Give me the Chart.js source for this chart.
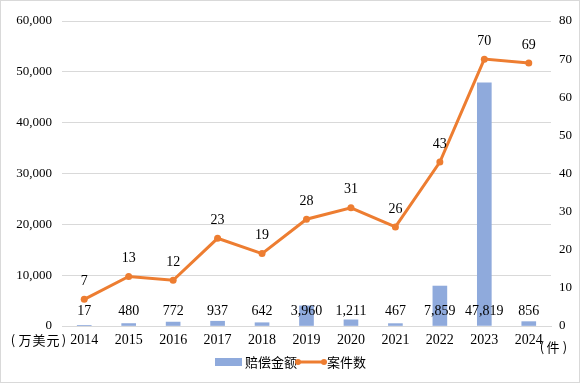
<!DOCTYPE html>
<html><head><meta charset="utf-8">
<script src="https://cdn.jsdelivr.net/npm/chart.js@4/dist/chart.umd.min.js"></script>
<style>html,body{margin:0;padding:0;background:#fff}canvas{display:block}</style>
</head><body>
<canvas id="c" width="580" height="383"></canvas>
<script>
const years = ['2014','2015','2016','2017','2018','2019','2020','2021','2022','2023','2024'];
const compensation = [17,480,772,937,642,3960,1211,467,7859,47819,856];
const caseCount = [7,13,12,23,19,28,31,26,43,70,69];
const leftTicks = [0,10000,20000,30000,40000,50000,60000];
const rightTicks = [0,10,20,30,40,50,60,70,80];

const SERIF = '"Liberation Serif","Times New Roman",serif';
const CJK = '"Noto Sans CJK SC","Noto Sans",sans-serif';
const BLUE = '#8faadc';
const ORANGE = '#ed7d31';

const fmt = v => v.toLocaleString('en-US');

function spaced(ctx, chars, centers, y) {
  chars.forEach((ch, i) => ctx.fillText(ch, centers[i], y));
}

const labelPlugin = {
  id: 'labels',
  afterDraw(chart) {
    const ctx = chart.ctx;
    ctx.save();
    // border
    ctx.strokeStyle = '#d9d9d9';
    ctx.lineWidth = 1;
    ctx.strokeRect(0.5, 0.5, 579, 382);
    // bar labels
    ctx.fillStyle = '#000';
    ctx.font = '14px ' + SERIF;
    ctx.textAlign = 'center';
    ctx.textBaseline = 'middle';
    const barMeta = chart.getDatasetMeta(1);
    const y0 = chart.scales.y.getPixelForValue(0);
    barMeta.data.forEach((el, i) => {
      ctx.fillText(fmt(compensation[i]), el.x, y0 - 15);
    });
    const lineMeta = chart.getDatasetMeta(0);
    lineMeta.data.forEach((el, i) => {
      ctx.fillText(String(caseCount[i]), el.x, el.y - 18);
    });
    // axis unit labels
    ctx.font = '13px ' + CJK;
    spaced(ctx, ['(', '万', '美', '元', ')'], [13, 25, 39, 53, 64], 340);
    spaced(ctx, ['(', '件', ')'], [542, 553, 565], 347);
    // legend
    ctx.textAlign = 'left';
    ctx.fillStyle = BLUE;
    ctx.fillRect(215, 358, 27, 8);
    ctx.fillStyle = '#000';
    ctx.font = '13px ' + CJK;
    ctx.fillText('赔偿金额', 245, 362);
    ctx.strokeStyle = ORANGE;
    ctx.lineWidth = 3;
    ctx.beginPath(); ctx.moveTo(298, 362); ctx.lineTo(324, 362); ctx.stroke();
    ctx.fillStyle = ORANGE;
    [298, 324].forEach(x => { ctx.beginPath(); ctx.arc(x, 362, 3, 0, Math.PI * 2); ctx.fill(); });
    ctx.fillStyle = '#000';
    ctx.fillText('案件数', 327, 362);
    ctx.restore();
  }
};

new Chart(document.getElementById('c'), {
  data: {
    labels: years,
    datasets: [
      { type: 'line', label: '案件数', data: caseCount, yAxisID: 'y1', order: 0,
        borderColor: ORANGE, backgroundColor: ORANGE, borderWidth: 3,
        pointRadius: 3.5, pointBackgroundColor: ORANGE, pointBorderWidth: 0, tension: 0 },
      { type: 'bar', label: '赔偿金额', data: compensation, yAxisID: 'y', order: 1,
        backgroundColor: BLUE, barThickness: 14 }
    ]
  },
  options: {
    responsive: false,
    animation: false,
    layout: { padding: { top: 21, left: 0, right: 0, bottom: 0 } },
    plugins: { legend: { display: false }, tooltip: { enabled: false } },
    scales: {
      x: {
        offset: true,
        grid: { display: false, drawTicks: false },
        border: { display: true, color: '#d9d9d9' },
        ticks: { color: '#000', font: { family: SERIF, size: 14 }, padding: 6, maxRotation: 0 },
        afterFit(s) { s.height = 57; }
      },
      y: {
        position: 'left', min: 0, max: 60000,
        afterBuildTicks(s) { s.ticks = leftTicks.map(v => ({ value: v })); },
        grid: { color: '#d9d9d9', drawTicks: false },
        border: { display: false },
        ticks: { color: '#000', font: { family: SERIF, size: 13 }, padding: 10, callback: v => fmt(v) },
        afterFit(s) { s.width = 62; }
      },
      y1: {
        position: 'right', min: 0, max: 80,
        afterBuildTicks(s) { s.ticks = rightTicks.map(v => ({ value: v })); },
        grid: { display: false, drawTicks: false },
        border: { display: false },
        ticks: { color: '#000', font: { family: SERIF, size: 13 }, padding: 8 },
        afterFit(s) { s.width = 29; }
      }
    }
  },
  plugins: [labelPlugin]
});
</script>
</body></html>
